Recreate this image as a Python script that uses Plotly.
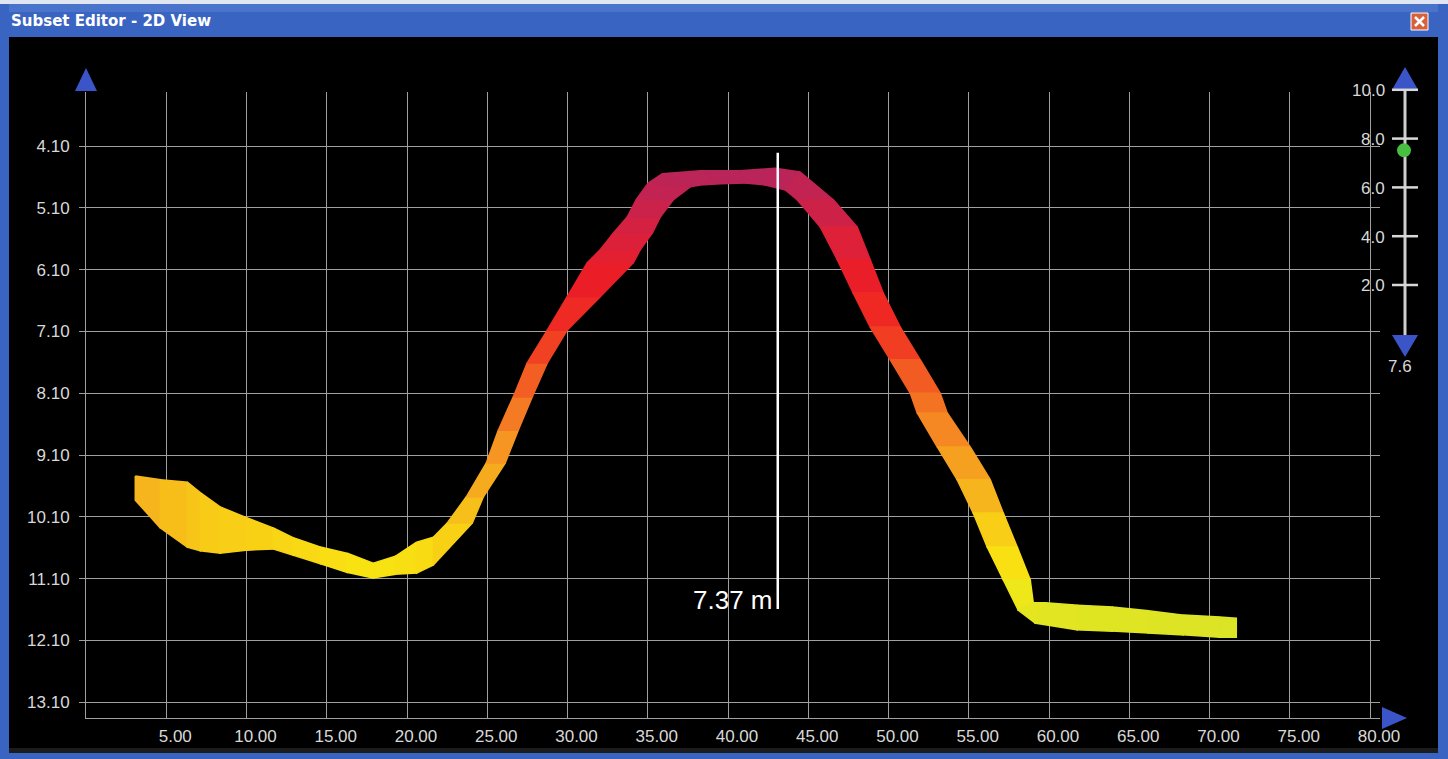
import plotly.graph_objects as go
from plotly.colors import sample_colorscale

# ---------------- data ----------------
# Point-cloud profile band: upper (shallow) edge and lower (deep) edge, in path order
upper_x = [3.07, 4.63, 6.31, 7.12, 8.36, 10.05, 11.67, 12.91, 14.60, 16.28, 17.90, 19.27, 20.60, 21.64,
           22.51, 23.69, 24.94, 25.69, 26.62, 27.49, 28.74, 29.98, 31.23, 32.04, 32.85, 33.72, 34.28, 35.03,
           35.90, 38.27, 40.76, 42.94, 44.50,
           46.56, 48.05, 48.86, 49.67, 50.73, 51.98, 53.22, 53.66, 55.09, 56.34, 57.15, 58.02, 58.83,
           59.02, 59.77, 61.76, 63.94, 66.18, 68.37, 70.61, 71.67]
upper_y = [9.44, 9.50, 9.54, 9.71, 9.94, 10.12, 10.28, 10.44, 10.59, 10.69, 10.85, 10.74, 10.51, 10.43,
           10.20, 9.78, 9.23, 8.70, 8.16, 7.61, 7.08, 6.54, 5.99, 5.78, 5.51, 5.25, 4.97, 4.70,
           4.55, 4.50, 4.50, 4.46, 4.52,
           4.97, 5.41, 5.94, 6.48, 7.03, 7.56, 8.10, 8.42, 8.97, 9.50, 10.04, 10.59, 11.12,
           11.49, 11.49, 11.53, 11.56, 11.62, 11.69, 11.72, 11.74]
lower_x = [3.07, 4.63, 6.31, 7.12, 8.36, 10.05, 11.67, 12.91, 14.60, 16.28, 17.90, 19.27, 20.60, 21.64,
           24.07, 24.75, 26.12, 26.93, 27.80, 28.74, 29.98, 32.04, 34.10, 34.53, 35.28, 35.78, 36.59, 37.65,
           38.27, 39.52, 41.08, 42.32, 43.57,
           44.31, 45.75, 46.81, 47.80, 48.86, 50.11, 51.36, 51.79, 53.04, 54.28, 55.28, 56.15, 57.15,
           58.08, 59.14, 61.76, 63.94, 66.18, 68.37, 70.61, 71.67]
lower_y = [9.83, 10.28, 10.59, 10.65, 10.69, 10.64, 10.62, 10.72, 10.86, 11.00, 11.09, 11.03, 11.01, 10.88,
           10.20, 9.78, 9.23, 8.70, 8.16, 7.61, 7.08, 6.54, 5.99, 5.78, 5.51, 5.25, 4.97, 4.76,
           4.73, 4.71, 4.70, 4.73, 4.81,
           4.97, 5.41, 5.94, 6.48, 7.03, 7.56, 8.10, 8.42, 8.97, 9.50, 10.04, 10.59, 11.12,
           11.61, 11.82, 11.93, 11.95, 11.98, 12.01, 12.05, 12.05]

x_ticks = [5, 10, 15, 20, 25, 30, 35, 40, 45, 50, 55, 60, 65, 70, 75, 80]
y_ticks = [4.10, 5.10, 6.10, 7.10, 8.10, 9.10, 10.10, 11.10, 12.10, 13.10]

measure_x = 43.1
measure_top = 4.21
measure_bottom = 11.59
measure_label = "7.37 m"

slider_ticks = [10.0, 8.0, 6.0, 4.0, 2.0]
slider_value = 7.6

title_text = "Subset Editor - 2D View"

# ---------------- styles ----------------
W, H = 1448, 759
L, R, T, B = 86, 68, 92, 41
PW, PH = W - L - R, H - T - B

depth_stops = [4.4, 5.0, 5.6, 6.3, 7.0, 7.7, 8.4, 9.1, 9.7, 10.3, 10.9, 11.4, 12.1]
depth_cols = ["rgb(180,38,94)", "rgb(198,34,78)", "rgb(220,32,58)", "rgb(236,30,38)",
              "rgb(240,45,35)", "rgb(242,85,35)", "rgb(244,122,35)", "rgb(246,155,32)",
              "rgb(246,178,30)", "rgb(248,205,22)", "rgb(248,226,18)", "rgb(236,232,26)",
              "rgb(212,226,42)"]
d0, d1 = depth_stops[0], depth_stops[-1]
cscale = [[(d - d0) / (d1 - d0), c] for d, c in zip(depth_stops, depth_cols)]

GRID = "#a0a0a0"
TXT = "#d8d8d8"
BLUE = "#3b55c8"
FRAME = "#3a64c2"
FONT = "Liberation Sans"


def px(x):
    return (x - L) / PW


def py(y):
    return 1 - (y - T) / PH


fig = go.Figure()

# band drawn as quads between consecutive stations, coloured by depth
for i in range(len(upper_x) - 1):
    xs = [upper_x[i], upper_x[i + 1], lower_x[i + 1], lower_x[i], upper_x[i]]
    ys = [upper_y[i], upper_y[i + 1], lower_y[i + 1], lower_y[i], upper_y[i]]
    m = sum(ys[:4]) / 4
    t = min(max((m - d0) / (d1 - d0), 0), 1)
    c = sample_colorscale(cscale, [t])[0]
    fig.add_trace(go.Scatter(x=xs, y=ys, mode="lines", fill="toself", fillcolor=c,
                             line=dict(color=c, width=1.5), hoverinfo="skip", showlegend=False))

# measurement line
fig.add_trace(go.Scatter(x=[measure_x, measure_x], y=[measure_top, measure_bottom], mode="lines",
                         line=dict(color="white", width=2.5), hoverinfo="skip", showlegend=False))

annotations = [
    dict(x=measure_x, y=measure_bottom - 0.14, xref="x", yref="y", text=measure_label,
         showarrow=False, xanchor="right", yanchor="middle", xshift=-3,
         font=dict(family=FONT, size=26, color="white")),
    dict(x=px(9), y=py(21), xref="paper", yref="paper", text="<b>" + title_text + "</b>",
         showarrow=False, xanchor="left", yanchor="middle",
         font=dict(family="DejaVu Sans", size=15, color="white")),
]

shapes = [
    # title bar & frame
    dict(type="rect", xref="paper", yref="paper", x0=px(0), x1=px(W), y0=py(0), y1=py(37),
         fillcolor=FRAME, line=dict(width=0), layer="below"),
    dict(type="rect", xref="paper", yref="paper", x0=px(0), x1=px(W), y0=py(4), y1=py(12),
         fillcolor="#4a74cc", line=dict(width=0), layer="below"),
    dict(type="rect", xref="paper", yref="paper", x0=px(0), x1=px(W), y0=py(0), y1=py(4),
         fillcolor="#dfe6f2", line=dict(width=0), layer="below"),
    dict(type="rect", xref="paper", yref="paper", x0=px(0), x1=px(9), y0=py(4), y1=py(H),
         fillcolor=FRAME, line=dict(width=0), layer="below"),
    dict(type="rect", xref="paper", yref="paper", x0=px(1438), x1=px(W), y0=py(4), y1=py(H),
         fillcolor=FRAME, line=dict(width=0), layer="below"),
    dict(type="rect", xref="paper", yref="paper", x0=px(0), x1=px(W), y0=py(753), y1=py(H),
         fillcolor=FRAME, line=dict(width=0), layer="below"),
    dict(type="rect", xref="paper", yref="paper", x0=px(9), x1=px(1438), y0=py(748), y1=py(753),
         fillcolor="#1c1c1c", line=dict(width=0), layer="below"),
    # close button
    dict(type="rect", xref="paper", yref="paper", x0=px(1411), x1=px(1428), y0=py(13), y1=py(30),
         fillcolor="#d9603b", line=dict(color="white", width=1)),
    dict(type="line", xref="paper", yref="paper", x0=px(1415), x1=px(1424), y0=py(17), y1=py(26),
         line=dict(color="white", width=2.5)),
    dict(type="line", xref="paper", yref="paper", x0=px(1415), x1=px(1424), y0=py(26), y1=py(17),
         line=dict(color="white", width=2.5)),
    # axis arrows
    dict(type="path", xref="paper", yref="paper",
         path=f"M {px(75)},{py(91)} L {px(97)},{py(91)} L {px(86)},{py(68)} Z",
         fillcolor=BLUE, line=dict(width=0)),
    dict(type="path", xref="paper", yref="paper",
         path=f"M {px(1382)},{py(707)} L {px(1382)},{py(729)} L {px(1407)},{py(718)} Z",
         fillcolor=BLUE, line=dict(width=0)),
]

# right-hand slider
def sy(v):
    return 333.8 - 24.4 * v


SX = 1405
shapes.append(dict(type="line", xref="paper", yref="paper", x0=px(SX), x1=px(SX),
                   y0=py(sy(10.0)), y1=py(336), line=dict(color="#cfcfcf", width=3)))
shapes.append(dict(type="path", xref="paper", yref="paper",
                   path=f"M {px(1392)},{py(sy(10.0))} L {px(1418)},{py(sy(10.0))} L {px(SX)},{py(67)} Z",
                   fillcolor=BLUE, line=dict(width=0)))
shapes.append(dict(type="path", xref="paper", yref="paper",
                   path=f"M {px(1392)},{py(335)} L {px(1418)},{py(335)} L {px(SX)},{py(357)} Z",
                   fillcolor=BLUE, line=dict(width=0)))
for v in slider_ticks:
    shapes.append(dict(type="line", xref="paper", yref="paper", x0=px(1392), x1=px(1418),
                       y0=py(sy(v)), y1=py(sy(v)), line=dict(color="#d8d8d8", width=2.5)))
    annotations.append(dict(x=px(1387), y=py(sy(v) + 1), xref="paper", yref="paper",
                            text=f"{v:.1f}", showarrow=False, xanchor="right", yanchor="middle",
                            font=dict(family=FONT, size=17, color=TXT)))
gy = sy(slider_value) + 2
shapes.append(dict(type="circle", xref="paper", yref="paper", x0=px(SX - 8), x1=px(SX + 6),
                   y0=py(gy - 7), y1=py(gy + 7), fillcolor="#46c03e", line=dict(width=0)))
annotations.append(dict(x=px(1400), y=py(366), xref="paper", yref="paper", text=f"{slider_value:.1f}",
                        showarrow=False, xanchor="center", yanchor="middle",
                        font=dict(family=FONT, size=17, color=TXT)))

x_max = PW / 16.05
y_top = 4.10 + (T - 146) / 61.8
y_bot = 4.10 + (H - B - 146) / 61.8

fig.update_layout(
    width=W, height=H,
    margin=dict(l=L, r=R, t=T, b=B, pad=0),
    paper_bgcolor="black", plot_bgcolor="black",
    showlegend=False,
    shapes=shapes, annotations=annotations,
    xaxis=dict(range=[0, x_max], tickvals=x_ticks, ticktext=[f"{v:.2f}" for v in x_ticks],
               showgrid=True, gridcolor=GRID, gridwidth=1, zeroline=False,
               showline=True, linecolor=GRID, linewidth=1, ticks="",
               ticklabelshift=9, ticklabelstandoff=3,
               tickfont=dict(family=FONT, size=17, color=TXT), fixedrange=True),
    yaxis=dict(range=[y_bot, y_top], tickvals=y_ticks, ticktext=[f"{v:.2f}" for v in y_ticks],
               showgrid=True, gridcolor=GRID, gridwidth=1, zeroline=False,
               showline=True, linecolor=GRID, linewidth=1, ticks="outside", ticklen=6,
               tickcolor=GRID, ticklabelstandoff=6,
               tickfont=dict(family=FONT, size=17, color=TXT), fixedrange=True),
)

fig.write_html("out.html")
